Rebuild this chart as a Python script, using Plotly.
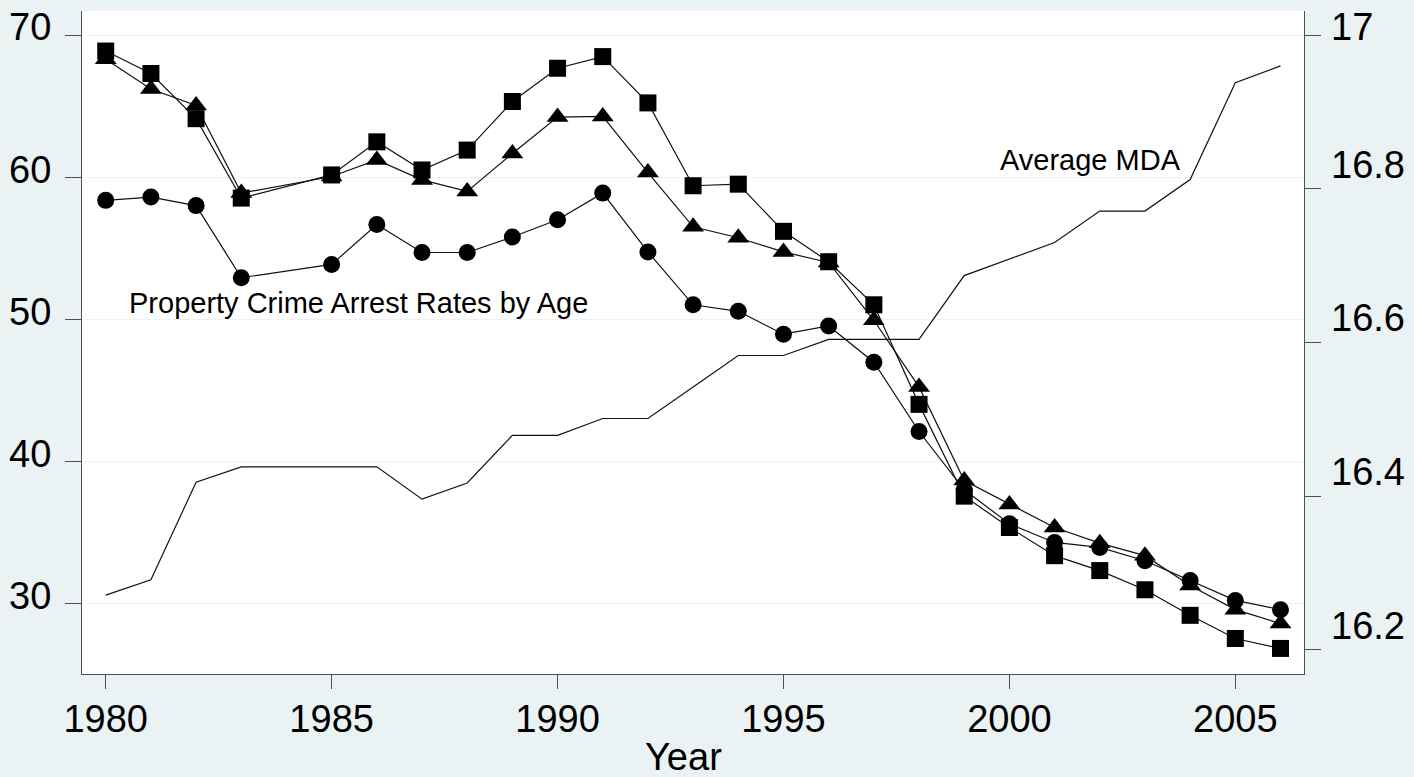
import plotly.graph_objects as go

# ---- data ----
years = [1980, 1981, 1982, 1983, 1985, 1986, 1987, 1988, 1989, 1990, 1991, 1992, 1993,
         1994, 1995, 1996, 1997, 1998, 1999, 2000, 2001, 2002, 2003, 2004, 2005, 2006]
rate_square = [68.88, 67.30, 64.12, 58.53, 60.16, 62.49, 60.51, 61.91, 65.33, 67.67, 68.49, 65.23, 59.40,
               59.51, 56.19, 54.05, 51.02, 44.01, 37.55, 35.34, 33.36, 32.31, 30.96, 29.16, 27.53, 26.83]
rate_triangle = [68.30, 66.21, 65.05, 58.88, 60.05, 61.21, 59.81, 59.00, 61.67, 64.23, 64.28, 60.33, 56.51,
                 55.74, 54.74, 54.00, 49.93, 45.24, 38.65, 36.97, 35.34, 34.24, 33.36, 31.26, 29.56, 28.58]
rate_circle = [58.37, 58.60, 58.00, 52.93, 53.86, 56.67, 54.70, 54.70, 55.79, 57.00, 58.88, 54.74, 51.02,
               50.56, 48.95, 49.53, 46.98, 42.10, 38.00, 35.60, 34.29, 33.94, 33.00, 31.61, 30.21, 29.56]

mda_years = list(range(1980, 2007))
avg_mda = [16.271, 16.291, 16.418, 16.438, 16.438, 16.438, 16.438, 16.396, 16.417, 16.479, 16.479,
           16.501, 16.501, 16.542, 16.583, 16.583, 16.604, 16.604, 16.604, 16.687, 16.708, 16.730,
           16.771, 16.771, 16.812, 16.938, 16.960]

x_ticks = [1980, 1985, 1990, 1995, 2000, 2005]
left_ticks = [30, 40, 50, 60, 70]
right_ticks = [16.2, 16.4, 16.6, 16.8, 17.0]
right_tick_text = ["16.2", "16.4", "16.6", "16.8", "17"]

FONT = "Liberation Sans, Arial, sans-serif"
BG = "#EAF2F3"
AX = "#4d4d4d"

fig = go.Figure()

fig.add_trace(go.Scatter(x=mda_years, y=avg_mda, yaxis="y2", mode="lines",
                         line=dict(color="#111111", width=1.2), name="Average MDA"))
fig.add_trace(go.Scatter(x=years, y=rate_circle, mode="lines+markers",
                         line=dict(color="#111111", width=1.2),
                         marker=dict(symbol="circle", size=17, color="black"), name="circle"))
fig.add_trace(go.Scatter(x=years, y=rate_triangle, mode="lines+markers",
                         line=dict(color="#111111", width=1.2),
                         marker=dict(symbol="triangle-up", size=19, color="black"), name="triangle"))
fig.add_trace(go.Scatter(x=years, y=rate_square, mode="lines+markers",
                         line=dict(color="#111111", width=1.2),
                         marker=dict(symbol="square", size=17, color="black"), name="square"))

annotations = []
for v, t in zip(right_ticks, right_tick_text):
    annotations.append(dict(xref="paper", x=1, xshift=25, xanchor="left",
                            yref="y2", y=v, yanchor="middle", yshift=(8 if v >= 17 else 24),
                            text=t, showarrow=False, font=dict(size=38, color="black", family=FONT)))
annotations.append(dict(xref="x", x=1999.74, xanchor="left", yref="y2", y=16.8374, yanchor="middle",
                        text="Average MDA", showarrow=False,
                        font=dict(size=29, color="black", family=FONT)))
annotations.append(dict(xref="x", x=1980.46, xanchor="left", yref="y", y=51.15, yanchor="middle",
                        text="Property Crime Arrest Rates by Age", showarrow=False,
                        font=dict(size=29, color="black", family=FONT)))
annotations.append(dict(xref="paper", x=0.4922, xanchor="center", yref="paper", y=0, yanchor="middle",
                        yshift=-83, text="Year", showarrow=False,
                        font=dict(size=38, color="black", family=FONT)))

fig.update_layout(
    width=1414, height=777,
    margin=dict(l=82, r=110, t=7, b=103),
    paper_bgcolor=BG, plot_bgcolor="white",
    showlegend=False,
    font=dict(family=FONT, color="black", size=38),
    xaxis=dict(range=[1979.475, 2006.52], tickvals=x_ticks, ticks="outside", ticklen=14,
               tickcolor=AX, tickwidth=1, showline=True, linecolor=AX, linewidth=1,
               showgrid=False, zeroline=False, tickfont=dict(size=38), ticklabelstandoff=-3),
    yaxis=dict(range=[25.03, 71.70], tickvals=left_ticks, ticks="outside", ticklen=16,
               tickcolor=AX, tickwidth=1, showline=True, linecolor=AX, linewidth=1,
               showgrid=True, gridcolor=BG, gridwidth=1, zeroline=False,
               tickfont=dict(size=38), ticklabelshift=-8, ticklabelstandoff=6),
    yaxis2=dict(range=[16.1684, 17.0314], overlaying="y", side="right", tickvals=right_ticks,
                ticks="outside", ticklen=16, tickcolor=AX, tickwidth=1, showline=True,
                linecolor=AX, linewidth=1, showgrid=False, zeroline=False, showticklabels=False),
    annotations=annotations,
)

fig.write_html("out.html", config={"displayModeBar": False},
               post_script="document.body.style.margin='0';document.body.style.overflow='hidden';")
